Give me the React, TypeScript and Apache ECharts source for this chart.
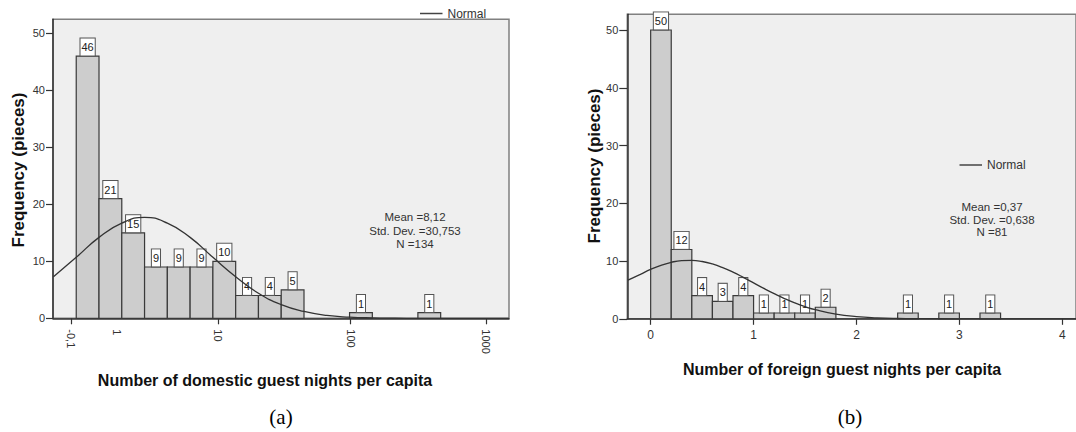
import React, { useEffect, useRef } from "react";
import * as echarts from "echarts";

// ---------- data ----------
const freqTicks = [0, 10, 20, 30, 40, 50];

// (a) domestic: bins on the chart's own (transformed) axis, bin width 1
const domesticBinStart = [0, 1, 2, 3, 4, 5, 6, 7, 8, 9, 12, 15];
const domesticCounts = [46, 21, 15, 9, 9, 9, 10, 4, 4, 5, 1, 1];
const domesticTickPos = [-0.22, 6.24, 12.05, 17.98];
const domesticLabelPos = [-0.22, 1.79, 6.24, 12.05, 17.98];
const domesticTickLabels = ["-0,1", "1", "10", "100", "1000"];
const domesticCurveX = [-1, 0, 1, 2, 3, 4, 5, 6, 7, 8, 9, 10, 11, 12, 13, 14, 15, 16, 17, 18, 19];
const domesticCurveY = [7.3, 10.7, 14.2, 16.7, 17.7, 16.7, 14.2, 10.7, 7.3, 4.4, 2.4, 1.2, 0.5, 0.2, 0.07, 0.02, 0, 0, 0, 0, 0];
const domesticStats = ["Mean =8,12", "Std. Dev. =30,753", "N =134"];

// (b) foreign: bin width 0.2
const foreignBinStart = [0, 0.2, 0.4, 0.6, 0.8, 1.0, 1.2, 1.4, 1.6, 2.4, 2.8, 3.2];
const foreignCounts = [50, 12, 4, 3, 4, 1, 1, 1, 2, 1, 1, 1];
const foreignTicks = [0, 1, 2, 3, 4];
const foreignCurveX = [-0.22, -0.1, 0, 0.1, 0.2, 0.3, 0.4, 0.5, 0.6, 0.7, 0.8, 0.9, 1.0, 1.1, 1.2, 1.3, 1.4, 1.5, 1.6, 1.8, 2.0, 2.2, 2.4, 2.6, 2.8, 3.2, 3.6, 4.2];
const foreignCurveY = [6.7, 7.7, 8.56, 9.26, 9.78, 10.07, 10.12, 9.92, 9.49, 8.86, 8.07, 7.17, 6.22, 5.26, 4.35, 3.5, 2.75, 2.11, 1.58, 0.82, 0.39, 0.17, 0.06, 0.02, 0.01, 0, 0, 0];
const foreignStats = ["Mean =0,37", "Std. Dev. =0,638", "N =81"];

const FONT = '"Liberation Sans", Arial, sans-serif';

function histRenderer(width: number) {
  return (params: any, api: any) => {
    const x0 = api.value(0);
    const y = api.value(1);
    const p0 = api.coord([x0, y]);
    const p1 = api.coord([x0 + width, 0]);
    return {
      type: "rect",
      shape: { x: p0[0], y: p0[1], width: p1[0] - p0[0], height: p1[1] - p0[1] },
      style: { fill: "#cdcdcd", stroke: "#3a3a3a", lineWidth: 1.2 },
      textContent: {
        style: {
          text: String(y),
          font: `11px ${FONT}`,
          fill: "#222",
          stroke: "none",
          lineWidth: 0,
          backgroundColor: "#ffffff",
          borderColor: "#555",
          borderWidth: 1,
          padding: [3, 1, 3, 1],
        },
      },
      textConfig: { position: "top", distance: 0, outsideFill: "#222", insideFill: "#222" },
    };
  };
}

function statsTexts(lines: string[], cx: number, y0: number, dy: number) {
  return lines.map((t, i) => ({
    type: "text",
    x: cx,
    y: y0 + i * dy,
    style: { text: t, font: `11.5px ${FONT}`, fill: "#333", align: "center", verticalAlign: "middle" },
  }));
}

function legendItem(x: number, y: number) {
  return [
    { type: "line", shape: { x1: x, y1: y, x2: x + 22.5, y2: y }, style: { stroke: "#444", lineWidth: 1.5 } },
    { type: "text", x: x + 27.5, y, style: { text: "Normal", font: `12px ${FONT}`, fill: "#333", align: "left", verticalAlign: "middle" } },
  ];
}

export default function App() {
  const ref = useRef<HTMLDivElement>(null);
  useEffect(() => {
    if (!ref.current) return;
    const chart = echarts.init(ref.current, undefined, { renderer: "svg" });
    const axisLineStyle = { color: "#333", width: 1.5 };
    const labelBase = { color: "#333", fontFamily: FONT };
    const option: any = {
      animation: false,
      grid: [
        { left: 53, top: 19.3, right: 567, bottom: 113.7, show: true, backgroundColor: "#efefef", borderColor: "#808080", borderWidth: 1.5 },
        { left: 627.3, top: 14.3, right: -1, bottom: 113.2, show: true, backgroundColor: "#efefef", borderColor: "#808080", borderWidth: 1.5 },
      ],
      xAxis: [
        {
          type: "value", gridIndex: 0, min: -1.02, max: 19,
          axisLine: { show: true, onZero: false, lineStyle: axisLineStyle },
          axisTick: { show: true, customValues: domesticTickPos, length: 6, lineStyle: { color: "#333", width: 1.2 } },
          axisLabel: {
            ...labelBase, fontSize: 11, rotate: -90, margin: 11,
            customValues: domesticLabelPos,
            formatter: (v: number) => {
              const i = domesticLabelPos.findIndex((p) => Math.abs(p - v) < 1e-6);
              return i >= 0 ? domesticTickLabels[i] : "";
            },
          },
          splitLine: { show: false },
        },
        {
          type: "value", gridIndex: 1, min: -0.227, max: 4.133,
          axisLine: { show: true, onZero: false, lineStyle: axisLineStyle },
          axisTick: { show: true, customValues: foreignTicks, length: 6, lineStyle: { color: "#333", width: 1.2 } },
          axisLabel: { ...labelBase, fontSize: 12, margin: 10, customValues: foreignTicks, formatter: (v: number) => String(v) },
          splitLine: { show: false },
        },
      ],
      yAxis: [
        {
          type: "value", gridIndex: 0, min: 0, max: 52.46,
          axisLine: { show: true, onZero: false, lineStyle: axisLineStyle },
          axisTick: { show: true, customValues: freqTicks, length: 7, lineStyle: { color: "#333", width: 1.2 } },
          axisLabel: { ...labelBase, fontSize: 11, margin: 8, customValues: freqTicks },
          splitLine: { show: false },
        },
        {
          type: "value", gridIndex: 1, min: 0, max: 52.72,
          axisLine: { show: true, onZero: false, lineStyle: axisLineStyle },
          axisTick: { show: true, customValues: freqTicks, length: 8, lineStyle: { color: "#333", width: 1.2 } },
          axisLabel: { ...labelBase, fontSize: 11, margin: 9, customValues: freqTicks },
          splitLine: { show: false },
        },
      ],
      series: [
        {
          type: "custom", name: "Domestic", xAxisIndex: 0, yAxisIndex: 0,
          renderItem: histRenderer(1),
          data: domesticBinStart.map((x, i) => [x, domesticCounts[i]]),
        },
        {
          type: "line", name: "Normal", xAxisIndex: 0, yAxisIndex: 0, smooth: true, symbol: "none",
          lineStyle: { color: "#333", width: 1.3 },
          data: domesticCurveX.map((x, i) => [x, domesticCurveY[i]]),
        },
        {
          type: "custom", name: "Foreign", xAxisIndex: 1, yAxisIndex: 1,
          renderItem: histRenderer(0.2),
          data: foreignBinStart.map((x, i) => [x, foreignCounts[i]]),
        },
        {
          type: "line", name: "Normal", xAxisIndex: 1, yAxisIndex: 1, smooth: true, symbol: "none",
          lineStyle: { color: "#333", width: 1.3 },
          data: foreignCurveX.map((x, i) => [x, foreignCurveY[i]]),
        },
      ],
      graphic: [
        { type: "text", x: 18.5, y: 170, rotation: Math.PI / 2, style: { text: "Frequency (pieces)", font: `bold 17px ${FONT}`, fill: "#111", align: "center", verticalAlign: "middle" } },
        { type: "text", x: 594, y: 166, rotation: Math.PI / 2, style: { text: "Frequency (pieces)", font: `bold 17px ${FONT}`, fill: "#111", align: "center", verticalAlign: "middle" } },
        { type: "text", x: 265, y: 380, style: { text: "Number of domestic guest nights per capita", font: `bold 16px ${FONT}`, fill: "#111", align: "center", verticalAlign: "middle" } },
        { type: "text", x: 842, y: 369, style: { text: "Number of foreign guest nights per capita", font: `bold 16px ${FONT}`, fill: "#111", align: "center", verticalAlign: "middle" } },
        { type: "text", x: 281, y: 417, style: { text: "(a)", font: `21px "Liberation Serif", "Times New Roman", serif`, fill: "#000", align: "center", verticalAlign: "middle" } },
        { type: "text", x: 850, y: 417, style: { text: "(b)", font: `21px "Liberation Serif", "Times New Roman", serif`, fill: "#000", align: "center", verticalAlign: "middle" } },
        ...statsTexts(domesticStats, 415, 217, 13.5),
        ...statsTexts(foreignStats, 992, 207, 12.5),
        ...legendItem(420, 13.5),
        ...legendItem(959.5, 165),
      ],
    };
    chart.setOption(option);
    return () => chart.dispose();
  }, []);
  return (
    <div
      ref={ref}
      style={{ position: "fixed", left: 0, top: 0, width: 1076, height: 432, background: "#fff" }}
    />
  );
}
